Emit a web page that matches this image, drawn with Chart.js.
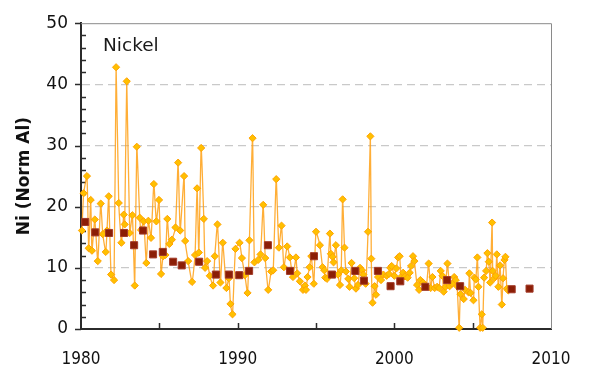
<!DOCTYPE html>
<html>
<head>
<meta charset="utf-8">
<script src="https://cdn.jsdelivr.net/npm/chart.js@4"></script>
<style>
  html, body { margin: 0; padding: 0; background: #fff; }
  #wrap { width: 594px; height: 374px; }
</style>
</head>
<body>
<div id="wrap"><canvas id="graphNickel" width="594" height="374"></canvas></div>
<script>
// ---- Individual samples (decimal year, Ni normalised to Al) ----
const sampleYears = [
  1980.06, 1980.17, 1980.38, 1980.49, 1980.62, 1980.70, 1980.88, 1981.07, 1981.26, 1981.39,
  1981.58, 1981.66, 1981.77, 1981.92, 1982.11, 1982.24, 1982.41, 1982.58, 1982.73, 1982.79,
  1982.92, 1983.11, 1983.28, 1983.43, 1983.56, 1983.75, 1983.83, 1984.00, 1984.17, 1984.30,
  1984.47, 1984.65, 1984.81, 1984.98, 1985.11, 1985.24, 1985.39, 1985.51, 1985.64, 1985.80,
  1986.03, 1986.20, 1986.33, 1986.58, 1986.65, 1986.84, 1987.09, 1987.28, 1987.41, 1987.52,
  1987.67, 1987.84, 1987.92, 1988.05, 1988.22, 1988.43, 1988.54, 1988.71, 1988.90, 1989.05,
  1989.28, 1989.44, 1989.54, 1989.67, 1989.86, 1990.12, 1990.27, 1990.46, 1990.63, 1990.75,
  1990.95, 1991.07, 1991.31, 1991.46, 1991.63, 1991.76, 1991.95, 1992.14, 1992.27, 1992.46,
  1992.63, 1992.80, 1992.95, 1993.16, 1993.33, 1993.53, 1993.72, 1993.80, 1993.97, 1994.17,
  1994.29, 1994.36, 1994.46, 1994.59, 1994.70, 1994.86, 1995.00, 1995.25, 1995.42, 1995.53,
  1995.59, 1995.70, 1995.89, 1995.95, 1996.06, 1996.12, 1996.27, 1996.40, 1996.53, 1996.61,
  1996.70, 1996.82, 1996.91, 1997.06, 1997.14, 1997.27, 1997.44, 1997.55, 1997.68, 1997.81,
  1997.94, 1998.02, 1998.17, 1998.32, 1998.47, 1998.53, 1998.61, 1998.74, 1998.83, 1998.96,
  1999.15, 1999.30, 1999.51, 1999.66, 1999.74, 1999.83, 2000.00, 2000.13, 2000.24, 2000.34,
  2000.43, 2000.56, 2000.68, 2000.85, 2000.98, 2001.07, 2001.19, 2001.28, 2001.45, 2001.58,
  2001.66, 2001.83, 2002.04, 2002.19, 2002.32, 2002.43, 2002.58, 2002.73, 2002.86, 2002.96,
  2003.07, 2003.15, 2003.26, 2003.39, 2003.53, 2003.69, 2003.82, 2003.92, 2004.01, 2004.14,
  2004.22, 2004.43, 2004.52, 2004.73, 2004.79, 2004.87, 2005.05, 2005.11, 2005.20, 2005.30,
  2005.37, 2005.48, 2005.58, 2005.64, 2005.73, 2005.86, 2005.94, 2006.03, 2006.12, 2006.24,
  2006.28, 2006.37, 2006.47, 2006.54, 2006.64, 2006.75, 2006.86, 2006.94, 2007.03, 2007.09,
  2007.18, 2007.27
];
const sampleNi = [
  16.1, 22.2, 25.0, 13.2, 21.1, 12.8, 17.9, 11.1, 20.5, 15.5,
  12.6, 16.1, 21.7, 8.9, 8.0, 42.8, 20.6, 14.1, 18.7, 17.1,
  40.5, 15.7, 18.6, 7.1, 29.8, 18.2, 16.2, 17.6, 10.8, 17.7,
  14.9, 23.7, 17.6, 21.1, 9.0, 11.9, 12.1, 18.0, 13.9, 14.6,
  16.6, 27.2, 16.1, 25.0, 14.4, 11.1, 7.7, 12.1, 23.0, 12.5,
  29.6, 18.0, 10.0, 11.1, 8.7, 7.1, 11.9, 17.1, 7.6, 14.1,
  6.7, 8.3, 4.1, 2.4, 13.1, 14.1, 11.6, 8.8, 5.9, 14.5,
  31.2, 10.9, 11.3, 12.2, 20.3, 11.6, 6.4, 9.4, 9.6, 24.5,
  13.3, 16.9, 10.1, 13.5, 11.7, 8.5, 11.7, 9.1, 7.8, 6.4,
  7.1, 6.4, 8.5, 10.1, 11.9, 7.4, 15.9, 13.7, 10.1, 9.6,
  8.4, 8.2, 15.6, 12.3, 11.8, 10.9, 13.7, 8.9, 7.2, 9.6,
  21.2, 13.3, 9.4, 8.2, 6.9, 10.8, 8.3, 6.6, 7.2, 10.0,
  9.6, 8.9, 7.4, 15.9, 31.5, 11.5, 4.3, 7.0, 5.6, 8.5,
  8.0, 8.9, 8.7, 9.0, 10.0, 10.3, 8.7, 9.9, 11.7, 11.9,
  8.5, 9.2, 8.6, 8.4, 9.2, 10.3, 11.9, 11.1, 7.2, 6.4,
  8.0, 7.6, 7.0, 10.7, 6.7, 8.5, 6.7, 6.9, 6.7, 9.5,
  8.7, 6.1, 6.9, 10.7, 7.0, 7.4, 8.5, 8.0, 7.0, 0.2,
  5.7, 4.9, 6.4, 6.0, 9.1, 5.9, 4.7, 8.4, 8.1, 11.7,
  6.9, 0.2, 2.4, 0.2, 8.4, 9.5, 12.4, 11.0, 7.6, 17.4,
  9.5, 8.3, 8.7, 12.2, 6.9, 10.4, 4.0, 8.3, 11.3, 11.8,
  6.6, 6.3
];

// ---- Period means ----
const meanYears = [
  1980.27, 1980.91, 1981.79, 1982.75, 1983.39, 1983.96, 1984.60, 1985.22, 1985.88, 1986.43,
  1987.54, 1988.61, 1989.44, 1990.10, 1990.73, 1991.93, 1993.34, 1994.87, 1996.02, 1997.51,
  1998.06, 1998.95, 1999.76, 2000.38, 2001.98, 2003.37, 2004.20, 2007.49, 2008.63
];
const meanNi = [
  17.5, 15.8, 15.7, 15.7, 13.7, 16.1, 12.2, 12.6, 11.0, 10.4,
  11.0, 8.9, 8.9, 8.8, 9.5, 13.7, 9.5, 11.9, 8.9, 9.5,
  7.9, 9.5, 7.0, 7.8, 6.9, 8.0, 7.0, 6.5, 6.6
];

// ---- Axes ----
const xMin = 1980, xMax = 2010, xLabelStep = 10, xTickStep = 5;
const yMin = 0, yMax = 50, yLabelStep = 10, yMinorStep = 2;

const nomSerie = 'Nickel';
const titreAxeY = 'Ni (Norm Al)';

const policeEtroite = "'DejaVu Sans Condensed', 'DejaVu Sans', sans-serif";
const policeTexte = "'DejaVu Sans', sans-serif";

// Cadre, petites graduations et nom de la série
const decorPlugin = {
  id: 'decor',
  beforeDatasetsDraw(chart) {
    const { ctx, chartArea: a, scales } = chart;
    ctx.save();
    // cadre haut et droit
    ctx.strokeStyle = '#8a8a8a';
    ctx.lineWidth = 1;
    ctx.beginPath();
    ctx.moveTo(a.left, a.top + 0.5);
    ctx.lineTo(a.right + 0.5, a.top + 0.5);
    ctx.lineTo(a.right + 0.5, a.bottom);
    ctx.stroke();

    ctx.strokeStyle = '#2b2b2b';
    ctx.lineWidth = 1.5;
    ctx.beginPath();
    // graduations Y : majeures vers l'extérieur, mineures vers l'intérieur
    for (let v = yMin; v <= yMax; v += yMinorStep) {
      const y = Math.round(scales.y.getPixelForValue(v)) + 0.5;
      if (v % yLabelStep === 0) {
        ctx.moveTo(a.left - 6, y);
        ctx.lineTo(a.left, y);
      } else {
        ctx.moveTo(a.left, y);
        ctx.lineTo(a.left + 5, y);
      }
    }
    // graduations X vers l'intérieur
    for (let v = xMin + xTickStep; v < xMax; v += xTickStep) {
      const x = Math.round(scales.x.getPixelForValue(v)) + 0.5;
      ctx.moveTo(x, a.bottom);
      ctx.lineTo(x, a.bottom - 6);
    }
    ctx.stroke();
    ctx.restore();
  },
  afterDraw(chart) {
    const { ctx, chartArea: a } = chart;
    ctx.save();
    ctx.fillStyle = '#1a1a1a';
    ctx.font = `18.5px ${policeTexte}`;
    ctx.textBaseline = 'alphabetic';
    ctx.fillText(nomSerie, a.left + 22, a.top + 28);
    ctx.restore();
  }
};

const ctx = document.getElementById('graphNickel').getContext('2d');
new Chart(ctx, {
  type: 'line',
  data: {
    datasets: [
      {
        label: 'Moyenne',
        data: meanYears.map((x, i) => ({ x, y: meanNi[i] })),
        showLine: false,
        pointStyle: 'rect',
        pointRadius: 5,
        pointBackgroundColor: '#8b1e06',
        pointBorderColor: '#a23a28',
        pointBorderWidth: 1,
        clip: false
      },
      {
        label: nomSerie,
        data: sampleYears.map((x, i) => ({ x, y: sampleNi[i] })),
        borderColor: 'rgba(255, 160, 20, 0.85)',
        borderWidth: 1.3,
        tension: 0.15,
        pointStyle: 'rectRot',
        pointRadius: 3.6,
        pointBackgroundColor: '#ffc000',
        pointBorderColor: '#ffa200',
        pointBorderWidth: 1,
        clip: false
      }
    ]
  },
  options: {
    responsive: false,
    animation: false,
    devicePixelRatio: 1,
    layout: { padding: { left: 0, right: 43, top: 20, bottom: 0 } },
    plugins: {
      legend: { display: false },
      tooltip: { enabled: false }
    },
    scales: {
      x: {
        type: 'linear',
        min: xMin,
        max: xMax,
        afterFit: s => { s.height = 45; },
        grid: { display: false },
        border: { display: true, color: '#2b2b2b', width: 2 },
        ticks: {
          stepSize: xLabelStep,
          padding: 12,
          color: '#111',
          font: { family: policeEtroite, size: 17 },
          callback: v => String(v),
          maxRotation: 0
        }
      },
      y: {
        min: yMin,
        max: yMax,
        afterFit: s => { s.width = 81; },
        grid: {
          drawTicks: false,
          color: c => (c.tick && (c.tick.value === yMin || c.tick.value === yMax)) ? 'rgba(0,0,0,0)' : '#c9c9c9',
          lineWidth: 1.2
        },
        // dash s'applique aux lignes de grille en v4
        border: { display: true, color: '#2b2b2b', width: 2, dash: [8, 5] },
        ticks: {
          stepSize: yLabelStep,
          padding: 13,
          color: '#111',
          font: { family: policeTexte, size: 17 }
        },
        title: {
          display: true,
          text: titreAxeY,
          color: '#111',
          font: { family: policeTexte, size: 17, weight: 'bold' },
          padding: { top: 14, bottom: 4 }
        }
      }
    }
  },
  plugins: [decorPlugin]
});
</script>
</body>
</html>
